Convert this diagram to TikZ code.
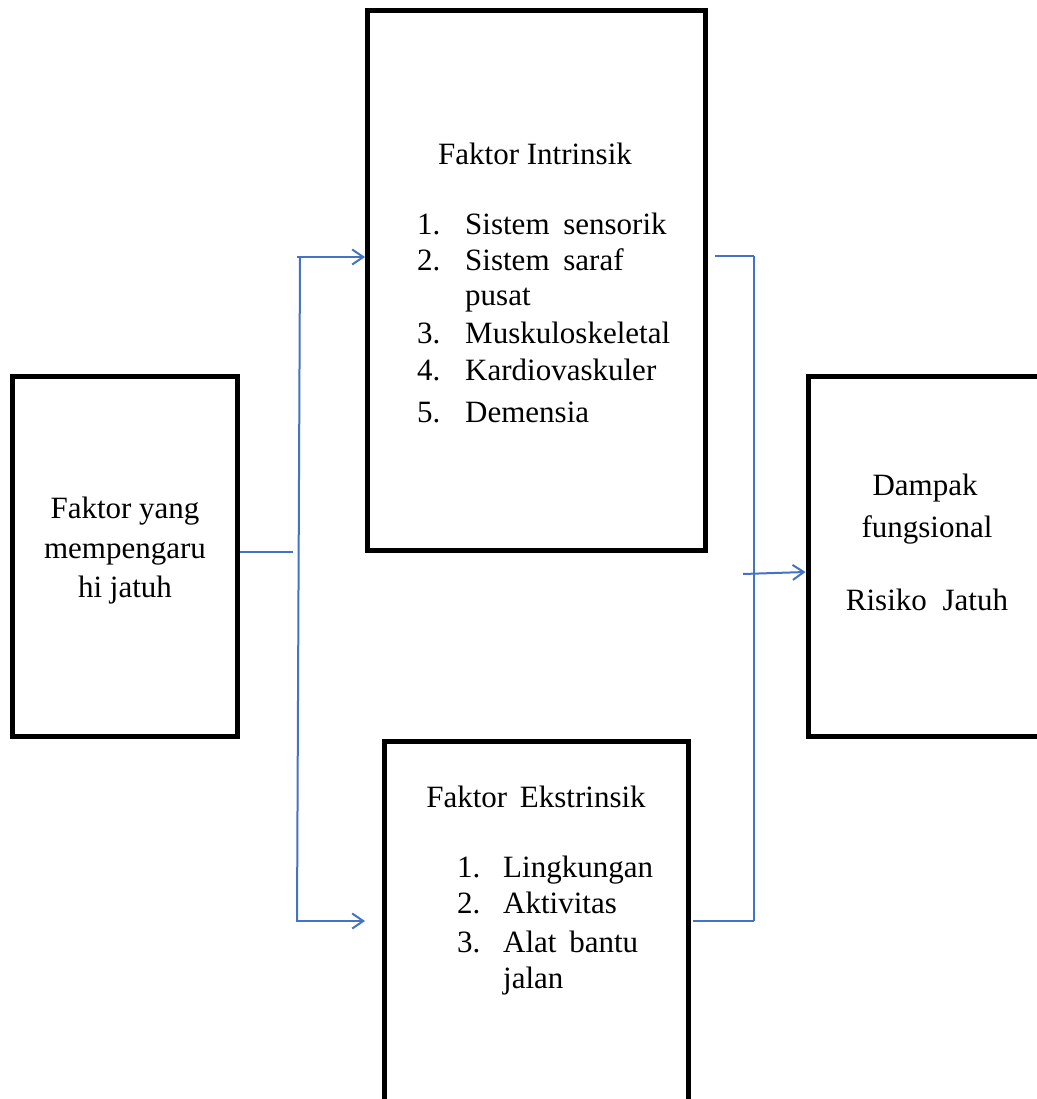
\documentclass[tikz,border=0pt]{standalone}
\usepackage{fontspec}
\setmainfont{Liberation Serif}
\usetikzlibrary{arrows.meta}
\definecolor{lineblue}{RGB}{68,114,196}
\tikzset{
  box/.style={draw=black, line width=5pt, fill=white, inner sep=0pt},
  txt/.style={inner sep=0pt, font=\fontsize{31}{36}\selectfont},
  conn/.style={draw=lineblue, line width=2pt},
  arr/.style={conn, -{Straight Barb[length=11pt,width=15pt,line width=2pt]}}
}
\begin{document}
\begin{tikzpicture}[x=1pt,y=-1pt]
\useasboundingbox (0,0) rectangle (1036,1099);
% boxes
\node[box, minimum width=225pt, minimum height=360pt] (b1) at (124.5,556) {};
\node[box, minimum width=338pt, minimum height=540pt] (b2) at (536.5,280.5) {};
\node[box, minimum width=304pt, minimum height=360pt] (b3) at (536,921) {};
\node[box, minimum width=240pt, minimum height=360pt] (b4) at (928,556) {};
% left box text
\node[txt, anchor=base] (t1a) at (125,518) {Faktor yang};
\node[txt, anchor=base] (t1b) at (125,558) {mempengaru};
\node[txt, anchor=base] (t1c) at (125,597) {hi jatuh};
% intrinsik
\node[txt, anchor=base] (t2) at (535,165) {Faktor Intrinsik};
\node[txt, anchor=base west] (n21) at (417,235) {1.};
\node[txt, anchor=base west] (i21) at (465,235) {Sistem\hspace{6pt} sensorik};
\node[txt, anchor=base west] (n22) at (417,270) {2.};
\node[txt, anchor=base west] (i22) at (465,270) {Sistem\hspace{6pt} saraf};
\node[txt, anchor=base west] (i22b) at (465,305) {pusat};
\node[txt, anchor=base west] (n23) at (417,343) {3.};
\node[txt, anchor=base west] (i23) at (465,343) {Muskuloskeletal};
\node[txt, anchor=base west] (n24) at (417,380) {4.};
\node[txt, anchor=base west] (i24) at (465,380) {Kardiovaskuler};
\node[txt, anchor=base west] (n25) at (417,422) {5.};
\node[txt, anchor=base west] (i25) at (465,422) {Demensia};
% ekstrinsik
\node[txt, anchor=base] (t3) at (536,807) {Faktor\hspace{5pt} Ekstrinsik};
\node[txt, anchor=base west] (n31) at (457,877) {1.};
\node[txt, anchor=base west] (i31) at (503,877) {Lingkungan};
\node[txt, anchor=base west] (n32) at (457,913) {2.};
\node[txt, anchor=base west] (i32) at (503,913) {Aktivitas};
\node[txt, anchor=base west] (n33) at (457,952) {3.};
\node[txt, anchor=base west] (i33) at (503,952) {Alat\hspace{5pt} bantu};
\node[txt, anchor=base west] (i33b) at (503,988) {jalan};
% dampak
\node[txt, anchor=base] (t4a) at (925,495) {Dampak};
\node[txt, anchor=base] (t4b) at (927,537) {fungsional};
\node[txt, anchor=base] (t4c) at (927,610) {Risiko\hspace{8pt} Jatuh};
% connector junctions
\coordinate (l1) at (293,552);
\coordinate (lvt) at (300,257);
\coordinate (lvb) at (297,921);
\coordinate (lht) at (297,257);
\coordinate (lhb) at (296,921);
\coordinate (a3) at (365,921);
\coordinate (r1) at (715,256);
\coordinate (r1e) at (754,256);
\coordinate (rvb) at (754,921);
\coordinate (r3) at (693,921);
\coordinate (ra) at (743,574);
% connectors left
\draw[conn] (b1.east |- l1) -- (l1);
\draw[conn] (lvt) -- (lvb);
\draw[arr] (lht) -- (b2.west |- lht);
\draw[arr] (lhb) -- (a3);
% connectors right
\draw[conn] (r1) -- (r1e);
\draw[conn] (r1e) -- (rvb);
\draw[conn] (r3) -- (rvb);
\draw[arr] (ra) -- (b4.west |- 0,572);
\end{tikzpicture}
\end{document}
